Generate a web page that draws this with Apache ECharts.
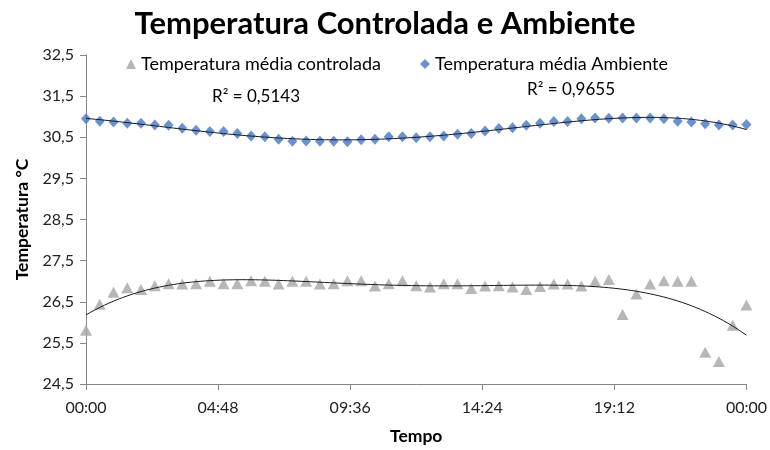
<!DOCTYPE html>
<html><head><meta charset="utf-8">
<script src="https://cdn.jsdelivr.net/npm/echarts@6/dist/echarts.min.js"></script>
<style>html,body{margin:0;padding:0;background:#fff}#c{width:770px;height:450px}</style>
</head><body><div id="c"></div>
<script>
// time in minutes after 00:00 (every 30 min)
const times = [0,30,60,90,120,150,180,210,240,270,300,330,360,390,420,450,480,510,540,570,600,630,660,690,720,750,780,810,840,870,900,930,960,990,1020,1050,1080,1110,1140,1170,1200,1230,1260,1290,1320,1350,1380,1410,1440];
const controlada = [25.81,26.44,26.73,26.84,26.80,26.89,26.94,26.93,26.94,27.00,26.94,26.94,27.01,27.00,26.93,27.00,27.00,26.93,26.94,27.01,27.01,26.88,26.94,27.01,26.89,26.86,26.94,26.94,26.82,26.88,26.89,26.86,26.80,26.87,26.93,26.93,26.88,27.00,27.04,26.19,26.69,26.93,27.01,27.00,27.00,25.27,25.05,25.93,26.42];
const ambiente = [30.95,30.89,30.87,30.84,30.84,30.80,30.79,30.72,30.67,30.64,30.64,30.59,30.53,30.51,30.45,30.40,30.41,30.40,30.40,30.39,30.44,30.45,30.51,30.51,30.49,30.51,30.53,30.57,30.59,30.65,30.71,30.73,30.79,30.84,30.88,30.88,30.95,30.97,30.96,30.97,30.97,30.97,30.95,30.89,30.87,30.83,30.80,30.80,30.81];
const xTicks = ['00:00','04:48','09:36','14:24','19:12','00:00'];
const yTicks = ['24,5','25,5','26,5','27,5','28,5','29,5','30,5','31,5','32,5'];
const names = ['Temperatura média controlada','Temperatura média Ambiente'];
const r2Labels = ['R² = 0,5143','R² = 0,9655'];
const trendOrder = 4; // polynomial trendline order

function polyfit(xs, ys, order){
  const n = order+1;
  const A = Array.from({length:n},()=>new Array(n+1).fill(0));
  for(let k=0;k<xs.length;k++){
    const x = xs[k]/1440;
    const p=[];for(let i=0;i<=2*order;i++)p.push(Math.pow(x,i));
    for(let i=0;i<n;i++){for(let j=0;j<n;j++)A[i][j]+=p[i+j];A[i][n]+=ys[k]*p[i];}
  }
  for(let i=0;i<n;i++){
    let m=i;for(let r=i+1;r<n;r++)if(Math.abs(A[r][i])>Math.abs(A[m][i]))m=r;
    [A[i],A[m]]=[A[m],A[i]];
    for(let r=0;r<n;r++){if(r===i)continue;const f=A[r][i]/A[i][i];for(let c=i;c<=n;c++)A[r][c]-=f*A[i][c];}
  }
  return A.map((row,i)=>row[n]/row[i]);
}
function pv(c,t){const x=t/1440;let s=0;for(let i=0;i<c.length;i++)s+=c[i]*Math.pow(x,i);return s;}
function trend(ys,order){const c=polyfit(times,ys,order);const out=[];for(let t=0;t<=1440;t+=10)out.push([t,pv(c,t)]);return out;}

const font='Lato';
const chart = echarts.init(document.getElementById('c'),null,{renderer:'canvas'});
chart.setOption({
  animation:false,
  textStyle:{fontFamily:font},
  title:{text:'Temperatura Controlada e Ambiente',left:'center',top:3,textStyle:{fontFamily:font,fontWeight:'bold',fontSize:31,color:'#000'}},
  graphic:[
    {type:'text',left:212,top:88,style:{text:r2Labels[0],font:'17px '+font,fill:'#000'}},
    {type:'text',left:527,top:81,style:{text:r2Labels[1],font:'17px '+font,fill:'#000'}}
  ],
  legend:[
    {data:[names[0]],left:121,top:50,itemWidth:10,itemHeight:10,itemGap:6,textStyle:{fontFamily:font,fontSize:18,color:'#000'}},
    {data:[names[1]],left:415,top:50,itemWidth:10,itemHeight:10,itemGap:5,textStyle:{fontFamily:font,fontSize:18,color:'#000'}}
  ],
  grid:{left:86,right:19,top:55,bottom:63},
  xAxis:{type:'value',min:0,max:1440,interval:288,
    name:'Tempo',nameLocation:'middle',nameGap:43,nameTextStyle:{fontFamily:font,fontWeight:'bold',fontSize:17.5,color:'#000'},
    axisLine:{lineStyle:{color:'#868686'}},axisTick:{show:true,inside:false,length:6,lineStyle:{color:'#868686'}},
    splitLine:{show:false},
    axisLabel:{fontSize:16,color:'#222',margin:16,formatter:(v)=>xTicks[Math.round(v/288)]}},
  yAxis:{type:'value',min:24.5,max:32.5,interval:1,
    name:'Temperatura °C',nameLocation:'middle',nameGap:54,nameTextStyle:{fontFamily:font,fontWeight:'bold',fontSize:17.5,color:'#000'},
    axisLine:{show:true,lineStyle:{color:'#868686'}},axisTick:{show:true,inside:false,length:6,lineStyle:{color:'#868686'}},
    splitLine:{show:false},
    axisLabel:{fontSize:16,color:'#222',margin:12,formatter:(v)=>yTicks[Math.round(v-24.5)]}},
  series:[
    {name:names[0],type:'scatter',symbol:'triangle',symbolSize:[12,11],itemStyle:{color:'#A5A5A5'},data:times.map((t,i)=>[t,controlada[i]])},
    {name:names[1],type:'scatter',symbol:'diamond',symbolSize:[10,11],itemStyle:{color:'#4677C4'},data:times.map((t,i)=>[t,ambiente[i]])},
    {name:'t1',type:'line',showSymbol:false,symbol:'none',smooth:false,lineStyle:{color:'#1a1a1a',width:1},data:trend(controlada,trendOrder),z:3},
    {name:'t2',type:'line',showSymbol:false,symbol:'none',smooth:false,lineStyle:{color:'#1a1a1a',width:1},data:trend(ambiente,trendOrder),z:3}
  ]
});
</script></body></html>
